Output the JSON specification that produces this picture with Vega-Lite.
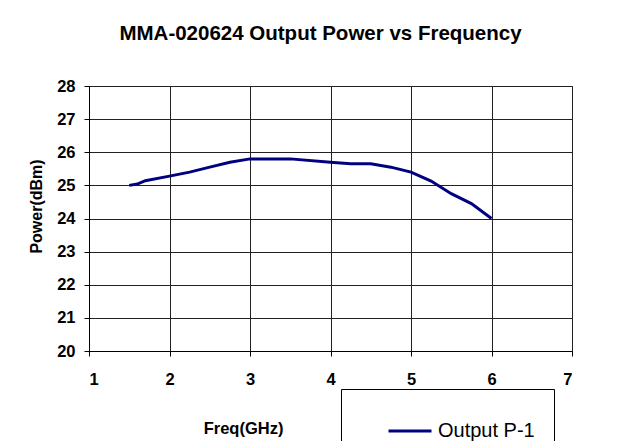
{
  "$schema": "https://vega.github.io/schema/vega-lite/v6.json",
  "width": 483,
  "height": 265,
  "autosize": {"type": "none"},
  "padding": {"left": 89, "top": 86, "right": 49, "bottom": 90},
  "background": "white",
  "title": {
    "text": "MMA-020624 Output Power vs Frequency",
    "font": "Liberation Sans",
    "fontSize": 20.5,
    "fontWeight": "bold",
    "color": "black",
    "anchor": "middle",
    "frame": "group",
    "baseline": "alphabetic",
    "dx": -10,
    "offset": 18
  },
  "data": {
    "values": [
      {"freq": 1.5, "power": 25.0, "series": "Output P-1"},
      {"freq": 1.6, "power": 25.04, "series": "Output P-1"},
      {"freq": 1.7, "power": 25.14, "series": "Output P-1"},
      {"freq": 2.0, "power": 25.28, "series": "Output P-1"},
      {"freq": 2.25, "power": 25.4, "series": "Output P-1"},
      {"freq": 2.5, "power": 25.55, "series": "Output P-1"},
      {"freq": 2.75, "power": 25.7, "series": "Output P-1"},
      {"freq": 3.0, "power": 25.8, "series": "Output P-1"},
      {"freq": 3.5, "power": 25.8, "series": "Output P-1"},
      {"freq": 4.0, "power": 25.7, "series": "Output P-1"},
      {"freq": 4.25, "power": 25.65, "series": "Output P-1"},
      {"freq": 4.5, "power": 25.65, "series": "Output P-1"},
      {"freq": 4.75, "power": 25.55, "series": "Output P-1"},
      {"freq": 5.0, "power": 25.4, "series": "Output P-1"},
      {"freq": 5.25, "power": 25.13, "series": "Output P-1"},
      {"freq": 5.5, "power": 24.75, "series": "Output P-1"},
      {"freq": 5.75, "power": 24.45, "series": "Output P-1"},
      {"freq": 6.0, "power": 24.0, "series": "Output P-1"}
    ]
  },
  "mark": {"type": "line", "strokeWidth": 3, "interpolate": "linear"},
  "encoding": {
    "x": {
      "field": "freq",
      "type": "quantitative",
      "scale": {"domain": [1, 7], "nice": false, "zero": false},
      "axis": {
        "title": "Freq(GHz)",
        "values": [1, 2, 3, 4, 5, 6, 7],
        "format": "d",
        "titleX": 154,
        "titleY": 82,
        "titleBaseline": "alphabetic",
        "titleFontSize": 16.5,
        "labelPadding": 15,
        "labelBaseline": "top"
      }
    },
    "y": {
      "field": "power",
      "type": "quantitative",
      "scale": {"domain": [20, 28], "nice": false, "zero": false},
      "axis": {
        "title": "Power(dBm)",
        "values": [20, 21, 22, 23, 24, 25, 26, 27, 28],
        "format": "d",
        "titleFontSize": 16,
        "titlePadding": 12,
        "titleY": 120,
        "labelPadding": 9
      }
    },
    "color": {
      "field": "series",
      "type": "nominal",
      "scale": {"range": ["#000080"]},
      "legend": {
        "title": null,
        "orient": "none",
        "legendX": 252,
        "legendY": 303,
        "strokeColor": "black",
        "fillColor": "white",
        "padding": 19,
        "symbolType": "stroke",
        "symbolSize": 1849,
        "symbolStrokeWidth": 3,
        "symbolOffset": 27,
        "labelOffset": 5,
        "labelFont": "Liberation Sans",
        "labelFontSize": 20,
        "labelColor": "black"
      }
    }
  },
  "config": {
    "view": {"stroke": "#808080", "strokeWidth": 1},
    "axis": {
      "domainColor": "black",
      "domainWidth": 1,
      "gridColor": "#222222",
      "gridWidth": 1,
      "gridOpacity": 1,
      "tickColor": "black",
      "tickSize": 5,
      "labelFont": "Liberation Sans",
      "labelFontSize": 16.5,
      "labelFontWeight": "bold",
      "labelColor": "black",
      "titleFont": "Liberation Sans",
      "titleFontWeight": "bold",
      "titleColor": "black"
    }
  }
}
